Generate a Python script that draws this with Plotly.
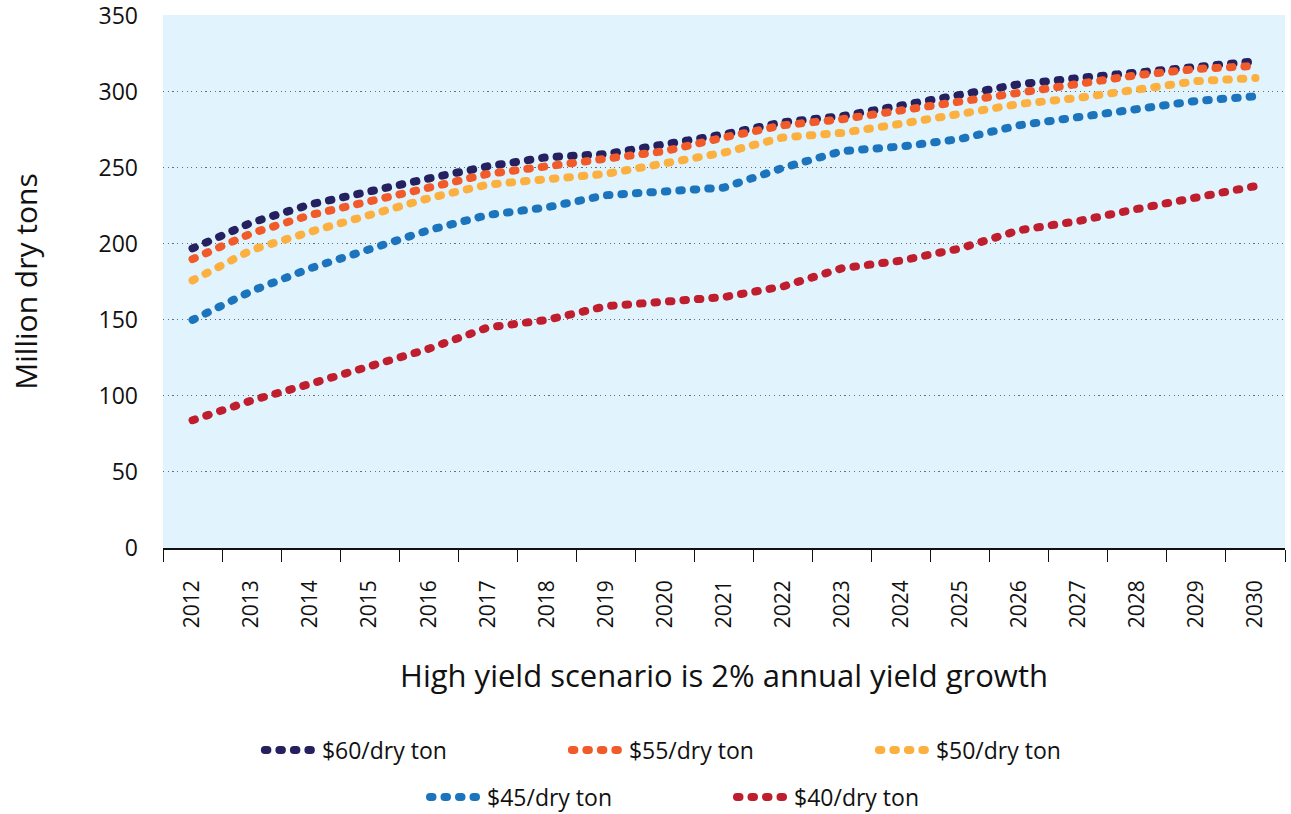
import plotly.graph_objects as go

years = [str(y) for y in range(2012, 2031)]
series_names = ["$60/dry ton", "$55/dry ton", "$50/dry ton", "$45/dry ton", "$40/dry ton"]
p60 = [197, 214, 226, 235, 243, 251, 257, 259, 265, 272, 280, 284, 291, 298, 305, 309, 313, 317, 320]
p55 = [190, 207, 219, 228, 237, 246, 251, 256, 261, 270, 278, 282, 288, 294, 300, 306, 311, 315, 317]
p50 = [176, 196, 208, 219, 230, 239, 242, 246, 253, 260, 270, 273, 279, 285, 292, 296, 301, 307, 309]
p45 = [150, 169, 184, 197, 209, 219, 224, 232, 235, 237, 250, 261, 264, 269, 278, 283, 288, 294, 297]
p40 = [84, 97, 108, 120, 131, 145, 150, 159, 162, 165, 172, 184, 189, 197, 209, 215, 223, 231, 238]
y_ticks = [0, 50, 100, 150, 200, 250, 300, 350]

colors = ["#252060", "#F15A29", "#FBB040", "#1C75BC", "#BE1E2D"]
legend_ids = ["legend", "legend", "legend", "legend2", "legend2"]
FONT = "Open Sans"

fig = go.Figure()
for name, vals, col, lg in zip(series_names, [p60, p55, p50, p45, p40], colors, legend_ids):
    fig.add_trace(go.Scatter(
        x=years, y=vals, name=name, mode="lines",
        line=dict(color=col, width=8, dash="2.5px,12px"),
        legend=lg,
    ))

legend_common = dict(
    orientation="h", xref="container", yref="container",
    xanchor="center", yanchor="middle",
    font=dict(family=FONT, size=23, color="#111"),
    entrywidth=240, entrywidthmode="pixels", itemwidth=52,
    bgcolor="rgba(0,0,0,0)", traceorder="normal",
)

fig.update_layout(
    width=1291, height=814,
    margin=dict(l=163, r=6, t=15, b=266, autoexpand=False),
    paper_bgcolor="white",
    plot_bgcolor="#E1F3FC",
    font=dict(family=FONT, color="#111"),
    showlegend=True,
    legend=dict(x=0.558, y=1 - 750 / 814, **legend_common),
    legend2=dict(x=0.567, y=1 - 797 / 814, **legend_common),
    xaxis=dict(
        type="category", tickson="boundaries", automargin=False,
        ticks="outside", ticklen=12, tickwidth=1.2, tickcolor="#111",
        showline=True, linecolor="#111", linewidth=1.5,
        showgrid=False, tickangle=-90,
        tickfont=dict(family=FONT, size=21, color="#111"),
        ticklabelstandoff=22,
        title=dict(text="High yield scenario is 2% annual yield growth",
                   font=dict(family=FONT, size=31, color="#111"), standoff=38),
        range=[-0.5, 18.5],
    ),
    yaxis=dict(
        range=[0, 350.5], tickvals=y_ticks, automargin=False,
        showline=False, ticks="", ticklabeloverflow="allow",
        showgrid=True, gridcolor="#6d6d6d", gridwidth=1.2, griddash="1.2px,3.5px",
        zeroline=False,
        tickfont=dict(family=FONT, size=23, color="#111"),
        ticklabelstandoff=24,
        title=dict(text="Million dry tons", font=dict(family=FONT, size=30, color="#111"), standoff=52),
    ),
)

post = """
var s = document.createElement('style');
s.innerHTML = 'html, body { margin: 0 !important; padding: 0 !important; } .js-line, .legendlines path { stroke-linecap: round !important; }';
document.head.appendChild(s);
"""
fig.write_html("out.html", post_script=post, config={"displayModeBar": False})
